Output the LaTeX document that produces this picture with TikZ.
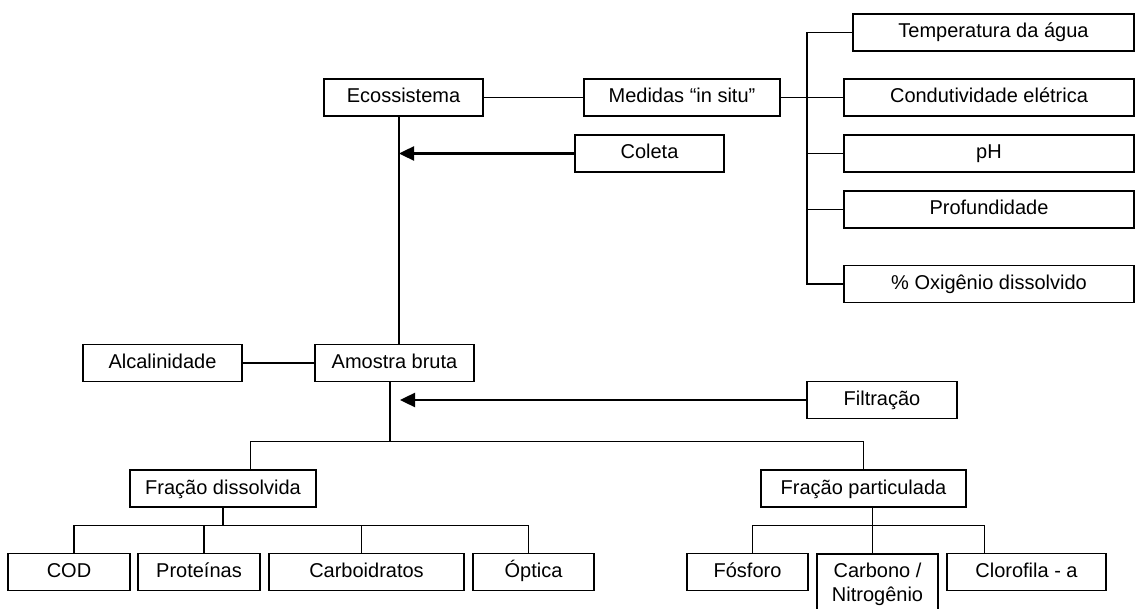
\documentclass[tikz,border=0pt]{standalone}
\usepackage{fontspec}
\setmainfont{Liberation Sans}
\usetikzlibrary{arrows.meta}

\tikzset{
	box/.style={draw, line width=1.5pt, inner sep=0pt, minimum height=37pt,
		text height=14.5pt, text depth=3.5pt, font=\fontsize{20}{24.3}\selectfont},
	tallbox/.style={draw, line width=1.5pt, inner sep=0pt, minimum height=61pt,
		align=center, font=\fontsize{20}{24.3}\selectfont},
	link/.style={line width=1.5pt},
	feed/.style={line width=2.4pt, -{Triangle[length=15pt, width=14pt]}}
}

\begin{document}
\begin{tikzpicture}[x=1pt, y=-1pt]
	\useasboundingbox (0,0) rectangle (1135,609);

	% upper part
	\node[box, minimum width=159] (eco) at (403.5, 97.5) {Ecossistema};
	\node[box, minimum width=196] (med) at (682, 97.5) {Medidas “in situ”};
	\node[box, minimum width=149] (col) at (649.5, 153.5) {Coleta};

	\node[box, minimum width=281] (temp) at (993.5, 32.5) {Temperatura da água};
	\node[box, minimum width=290] (cond) at (989, 97.5) {Condutividade elétrica};
	\node[box, minimum width=290] (ph) at (989, 153.5) {pH};
	\node[box, minimum width=290] (prof) at (989, 209.5) {Profundidade};
	\node[box, minimum width=290] (oxi) at (989, 284) {\% Oxigênio dissolvido};

	\coordinate (trunk) at (399, 153.5);
	\coordinate (bus) at (807, 0);

	\draw[link] (eco.east) -- (med.west);
	\draw[link] (med.east) -- (cond.west);
	\draw[link] (temp.west) -- (temp.west -| bus) -- (oxi.west -| bus) -- (oxi.west);
	\foreach \n in {ph, prof}
		\draw[link] (\n.west -| bus) -- (\n.west);

	% sample
	\node[box, minimum width=159] (alc) at (162.5, 363) {Alcalinidade};
	\node[box, minimum width=159] (amo) at (394.5, 363) {Amostra bruta};
	\node[box, minimum width=150] (fil) at (882, 400) {Filtração};

	\draw[link] (eco.south -| trunk) -- (amo.north -| trunk);
	\draw[feed] (col.west) -- (trunk);
	\draw[link] (alc.east) -- (amo.west);

	\coordinate (split) at (390, 441.7);
	\coordinate (filtip) at (400, 400);
	\draw[link] (amo.south -| split) -- (split);
	\draw[feed] (fil.west) -- (filtip);

	% fractions
	\node[box, minimum width=186] (fd) at (223, 488.5) {Fração dissolvida};
	\node[box, minimum width=205] (fp) at (863.5, 488.5) {Fração particulada};

	\draw[link] ([xshift=27.7]fd.north) |- (split) -| (fp.north);

	\node[box, minimum width=122] (cod) at (69, 572) {COD};
	\node[box, minimum width=122] (pro) at (199, 572) {Proteínas};
	\node[box, minimum width=195] (car) at (366.5, 572) {Carboidratos};
	\node[box, minimum width=121] (opt) at (533.5, 572) {Óptica};

	\node[box, minimum width=121] (fos) at (747.5, 572) {Fósforo};
	\node[tallbox, minimum width=121, anchor=north] (cn) at (877.5, 553) {Carbono /\\Nitrogênio};
	\node[box, minimum width=159] (clo) at (1026.5, 572) {Clorofila - a};

	\coordinate (dsplit) at (223, 525.3);
	\coordinate (psplit) at (872.7, 525.3);

	\draw[link] (fd.south) -- (dsplit);
	\draw[link] ([xshift=5]cod.north) |- (dsplit) -| ([xshift=-4.8]opt.north);
	\draw[link] ([xshift=5]pro.north) |- (dsplit);
	\draw[link] ([xshift=-4.8]car.north) |- (dsplit);

	\draw[link] ([xshift=9.2]fp.south) -- ([xshift=-4.8]cn.north);
	\draw[link] ([xshift=4.8]fos.north) |- (psplit) -| ([xshift=-42.2]clo.north);
\end{tikzpicture}
\end{document}
